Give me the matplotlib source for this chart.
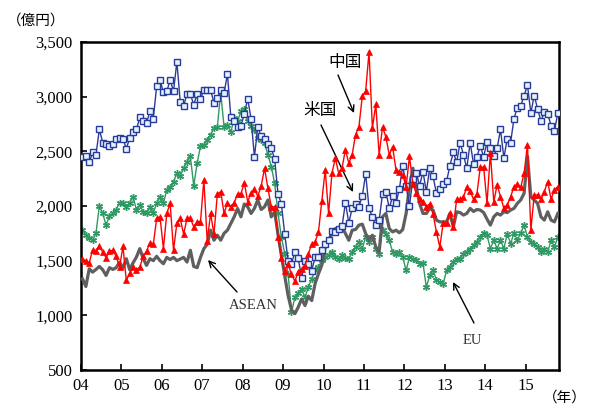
import matplotlib
matplotlib.use("Agg")
import matplotlib.pyplot as plt
import numpy as np

# Monthly exports (100 million yen), Jan 2004 - Oct 2015
us = [
    2450, 2460, 2400, 2490, 2470, 2700, 2580, 2565, 2550, 2565, 2615, 2620,
    2615, 2525, 2620, 2675, 2700, 2810, 2775, 2760, 2865, 2800, 3095, 3150,
    3040, 3050, 3150, 3050, 3320, 2950, 2915, 3025, 3025, 2925, 3025, 2975,
    3065, 3065, 3065, 2940, 2990, 3060, 3035, 3205, 2815, 2775, 2725, 2735,
    2840, 2980, 2800, 2450, 2720, 2640, 2610, 2570, 2530, 2430, 2110, 2020,
    1740, 1500, 1470, 1580, 1520, 1340, 1500, 1470, 1410, 1530, 1535, 1595,
    1650, 1690, 1770, 1765, 1790, 1815, 2030, 1845, 1980, 2020, 1995, 2090,
    2295, 1980, 1895, 1825, 1870, 2110, 2130, 1980, 2090, 2025, 2155, 2370,
    2180, 2000, 2250, 2305, 2185, 2315, 2130, 2345, 2270, 2115, 2155, 2200,
    2225, 2370, 2490, 2400, 2580, 2470, 2345, 2580, 2385, 2450, 2550, 2450,
    2585, 2530, 2460, 2530, 2700, 2440, 2615, 2580, 2800, 2900, 2915, 3010,
    3105, 2850, 3010, 2890, 2775, 2860, 2845, 2735, 2685, 2850]

china = [
    1518, 1497, 1478, 1601, 1588, 1632, 1579, 1527, 1588, 1595, 1540, 1440,
    1632, 1319, 1386, 1441, 1417, 1441, 1540, 1588, 1662, 1650, 1886, 1901,
    1610, 1932, 2024, 1595, 1846, 1886, 1742, 1886, 1886, 1809, 1855, 1855,
    2239, 1680, 1932, 1742, 2110, 2131, 1932, 2030, 1993, 2030, 2110, 2110,
    2214, 2040, 2116, 2153, 2092, 2180, 2346, 2162, 1993, 1993, 1720, 1520,
    1410, 1465, 1380, 1310, 1400, 1425, 1455, 1560, 1656, 1671, 1763, 2048,
    2331, 1932, 2300, 2438, 2300, 2350, 2515, 2392, 2469, 2653, 2723, 3005,
    3051, 3410, 2713, 2929, 2469, 2723, 2631, 2469, 2540, 2331, 2315, 2285,
    2177, 2453, 2200, 2116, 2061, 2040, 1993, 2020, 1926, 1760, 1625, 1846,
    1846, 1932, 1809, 2061, 2061, 2080, 2177, 2135, 2061, 2110, 2355, 2355,
    2024, 2484, 2039, 2193, 2085, 1978, 2010, 2085, 2177, 2200, 2170, 2300,
    2560, 1779, 2101, 2101, 2061, 2131, 2223, 2061, 2150, 2177]

asean = [
    1334, 1264, 1426, 1395, 1420, 1447, 1417, 1365, 1436, 1420, 1436, 1487,
    1430, 1518, 1417, 1480, 1533, 1610, 1520, 1457, 1518, 1500, 1540, 1500,
    1472, 1530, 1510, 1530, 1500, 1515, 1530, 1487, 1595, 1447, 1436, 1530,
    1610, 1650, 1779, 1687, 1733, 1687, 1750, 1779, 1840, 1901, 1978, 1901,
    2018, 1993, 1932, 1978, 2055, 1968, 1993, 2055, 1901, 1947, 1740, 1550,
    1360, 1180, 1050, 1015, 1075, 1150, 1090, 1175, 1135, 1290, 1380, 1460,
    1626, 1687, 1748, 1794, 1773, 1809, 1748, 1687, 1779, 1785, 1825, 1834,
    1748, 1687, 1733, 1625, 1579, 1901, 1932, 1794, 1763, 1779, 1755, 1785,
    1932, 2177, 2346, 2177, 2024, 1932, 1932, 1978, 1963, 1871, 1855, 1855,
    1855, 1932, 1809, 1947, 1940, 1917, 1932, 1978, 1950, 1968, 1963, 1940,
    1880, 1825, 1901, 1932, 1917, 1947, 1940, 1963, 1978, 2024, 2055, 2116,
    2453, 2085, 2055, 2024, 1901, 1871, 1947, 1871, 1855, 1932]

eu = [
    1785, 1733, 1711, 1687, 1754, 2000, 1932, 1825, 1908, 1932, 1968, 2030,
    2024, 1993, 2030, 2085, 1963, 2008, 1947, 1932, 1990, 1938, 2024, 2085,
    2024, 2147, 2177, 2223, 2300, 2275, 2346, 2407, 2453, 2184, 2392, 2545,
    2560, 2607, 2653, 2714, 2723, 3036, 2723, 2745, 2674, 2806, 2775, 2867,
    2883, 2775, 2730, 2699, 2622, 2607, 2576, 2469, 2361, 2208, 1932, 1717,
    1564, 1380, 1027, 1165, 1200, 1242, 1165, 1257, 1334, 1411, 1441, 1503,
    1533, 1548, 1579, 1533, 1518, 1548, 1527, 1518, 1579, 1625, 1671, 1610,
    1717, 1671, 1717, 1610, 1564, 1779, 1748, 1687, 1579, 1564, 1579, 1533,
    1411, 1533, 1518, 1503, 1472, 1478, 1257, 1365, 1411, 1325, 1303, 1288,
    1411, 1441, 1487, 1518, 1518, 1564, 1579, 1610, 1640, 1671, 1717, 1754,
    1733, 1610, 1687, 1610, 1687, 1610, 1748, 1656, 1754, 1687, 1754, 1825,
    1717, 1671, 1656, 1625, 1579, 1610, 1579, 1687, 1625, 1717]

year_labels = ["04", "05", "06", "07", "08", "09", "10", "11", "12", "13", "14", "15"]
y_ticks = [500, 1000, 1500, 2000, 2500, 3000, 3500]

serif = ["Liberation Serif", "DejaVu Serif"]
jp = ["Noto Sans CJK JP", "DejaVu Sans"]

fig = plt.figure(figsize=(5.89, 4.07), dpi=100)
ax = fig.add_axes([0.1372, 0.0909, 0.8127, 0.8059])

x = np.arange(len(us))

ax.plot(x, eu, color="#2E9963", lw=1.0, marker=(6, 2, 0), ms=5, mew=1.0,
        mec="#2E9963", zorder=2)
ax.plot(x, asean, color="#5F5F5F", lw=2.3, zorder=3)
ax.plot(x, us, color="#2B3A99", lw=1.0, marker="s", ms=3.8, mew=1.0,
        mec="#2B3A99", mfc="#E2F5FF", zorder=4)
ax.plot(x, china, color="#FF0000", lw=1.0, marker="^", ms=5, mew=0.5,
        mec="#FF0000", mfc="#FF0000", zorder=5)

ax.set_xlim(-0.5, len(us) - 0.5)
ax.set_ylim(500, 3500)

ax.set_xticks([12 * k - 0.5 for k in range(len(year_labels))])
ax.set_xticklabels(year_labels, fontfamily=serif, fontsize=12)
ax.set_yticks(y_ticks)
ax.set_yticklabels([f"{v:,}" for v in y_ticks], fontfamily=serif, fontsize=12)
ax.tick_params(axis="both", direction="in", length=4, width=1.2, colors="black")
ax.tick_params(axis="x", pad=6)
ax.tick_params(axis="y", pad=6)

for s in ax.spines.values():
    s.set_linewidth(1.8)
    s.set_color("black")

fig.text(0.012, 0.950, "（億円）", fontfamily=jp, fontsize=10.5, ha="left", va="center")
fig.text(0.997, 0.022, "（年）", fontfamily=jp, fontsize=10.5, ha="right", va="center")

arrow = dict(arrowstyle="->", color="black", lw=1.0, shrinkA=0, shrinkB=0,
             mutation_scale=11)

def px(xp, yp):
    return ((xp - 82.5) / 3.371, 500 + (370 - yp) * 3000 / 328)

ax.text(*px(345, 62), "中国", fontfamily=jp, fontsize=12, ha="center", va="center")
ax.annotate("", xy=px(354, 113), xytext=px(338, 75), arrowprops=arrow)
ax.text(*px(320, 110), "米国", fontfamily=jp, fontsize=12, ha="center", va="center")
ax.annotate("", xy=px(353, 192), xytext=px(321, 125), arrowprops=arrow)
ax.text(*px(253, 305), "ASEAN", fontfamily=serif, fontsize=10.5, ha="center",
        va="center", color="#333333")
ax.annotate("", xy=px(208, 260), xytext=px(237, 292), arrowprops=arrow)
ax.text(*px(472, 340), "EU", fontfamily=serif, fontsize=10.5, ha="center",
        va="center", color="#333333")
ax.annotate("", xy=px(453, 282), xytext=px(474, 323), arrowprops=arrow)

fig.savefig("out.png", dpi=100)
